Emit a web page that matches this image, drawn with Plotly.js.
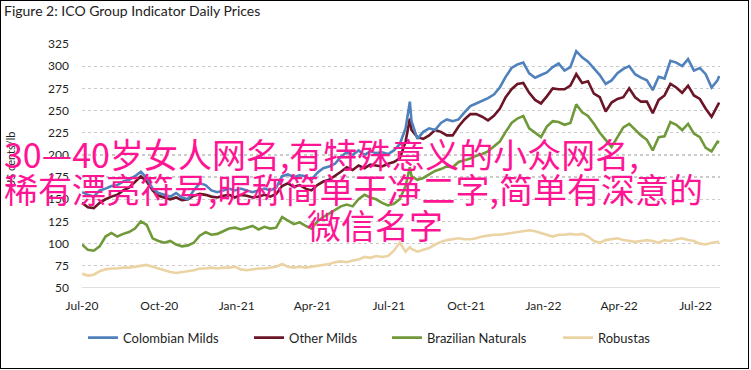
<!DOCTYPE html>
<html>
<head>
<meta charset="utf-8">
<script src="https://cdn.plot.ly/plotly-3.0.1.min.js"></script>
<style>
  html, body { margin: 0; padding: 0; background: #fff; }
  #wrap { position: relative; width: 751px; height: 370px; }
  #chart { width: 751px; height: 370px; }
  #frame { position: absolute; left: 0; top: 0; width: 747px; height: 367px; border: 1px solid #000; pointer-events: none; }
</style>
</head>
<body>
<div id="wrap"><div id="chart"></div><div id="frame"></div></div>
<script>
const dates = ["2020-07-01","2020-07-08","2020-07-15","2020-07-22","2020-07-29","2020-08-05","2020-08-12","2020-08-19","2020-08-26","2020-09-02","2020-09-09","2020-09-16","2020-09-23","2020-09-30","2020-10-07","2020-10-14","2020-10-21","2020-10-28","2020-11-04","2020-11-11","2020-11-18","2020-11-25","2020-12-02","2020-12-09","2020-12-16","2020-12-23","2020-12-30","2021-01-06","2021-01-13","2021-01-20","2021-01-27","2021-02-03","2021-02-10","2021-02-17","2021-02-24","2021-03-03","2021-03-10","2021-03-17","2021-03-24","2021-03-31","2021-04-07","2021-04-14","2021-04-21","2021-04-28","2021-05-05","2021-05-12","2021-05-19","2021-05-26","2021-06-02","2021-06-09","2021-06-16","2021-06-23","2021-06-30","2021-07-07","2021-07-14","2021-07-21","2021-07-26","2021-07-28","2021-08-04","2021-08-11","2021-08-18","2021-08-25","2021-09-01","2021-09-08","2021-09-15","2021-09-22","2021-09-29","2021-10-06","2021-10-13","2021-10-20","2021-10-27","2021-11-03","2021-11-10","2021-11-17","2021-11-24","2021-12-01","2021-12-08","2021-12-15","2021-12-22","2021-12-29","2022-01-05","2022-01-12","2022-01-19","2022-01-26","2022-02-02","2022-02-09","2022-02-16","2022-02-23","2022-03-02","2022-03-09","2022-03-16","2022-03-23","2022-03-30","2022-04-06","2022-04-13","2022-04-20","2022-04-27","2022-05-04","2022-05-11","2022-05-18","2022-05-25","2022-06-01","2022-06-08","2022-06-15","2022-06-22","2022-06-29","2022-07-06","2022-07-13","2022-07-20","2022-07-27","2022-07-29"];

const colombianMilds = [158,155,153,160,162,165,166,170,172,176,
  181,174,162,157,155,153,157,152,150,160,
  168,166,160,158,160,162,160,162,160,158,
  160,162,160,163,176,178,175,177,176,172,
  180,185,187,190,198,203,200,205,200,204,
  202,203,201,205,212,230,
  260,
  238,218,226,230,
  228,236,240,238,240,248,255,258,261,264,
  268,276,288,298,302,304,292,287,290,293,
  299,303,295,299,317,310,305,298,290,280,
  284,292,297,300,291,287,284,273,288,286,
  306,304,300,308,295,298,291,276,284,
  289];

const otherMilds = [146,141,140,146,150,153,155,160,163,170,
  176,170,160,154,152,150,152,149,150,154,
  156,155,153,152,154,155,152,155,154,152,
  153,155,153,156,165,168,164,166,162,160,
  166,170,172,176,181,186,183,188,185,189,
  188,187,190,192,196,215,
  241,
  228,220,218,222,
  228,226,222,222,232,240,246,246,243,239,
  244,252,265,274,280,281,270,262,258,266,
  275,274,274,278,291,281,283,269,265,249,
  259,263,265,275,265,260,260,247,262,267,
  280,276,270,278,267,263,252,243,255,
  259];

const brazilianNaturals = [99,93,92,97,108,112,108,111,113,117,
  125,121,106,103,101,103,99,97,98,101,
  109,113,110,111,114,117,118,116,118,120,
  116,119,117,118,130,126,122,124,120,117,
  125,130,134,138,142,144,142,150,155,152,
  150,146,143,145,150,165,
  186,
  176,172,174,178,
  182,184,187,186,192,194,196,199,201,204,
  210,215,226,236,241,244,230,225,220,232,
  238,237,234,236,257,248,244,235,225,217,
  209,220,231,235,228,222,217,205,220,221,
  237,234,228,235,224,220,208,204,215,
  214];

const robustas = [66,64,65,69,71,72,72,73,73,74,
  75,76,74,72,70,68,67,68,69,70,
  72,72,73,72,73,73,74,71,70,71,
  72,72,73,74,77,74,73,74,73,74,
  75,76,77,79,80,79,81,82,85,84,
  86,85,86,92,101,91,
  96,
  94,91,93,95,
  99,102,104,105,106,105,105,106,108,109,
  110,110,111,112,113,114,115,114,112,110,
  108,110,110,111,110,111,108,103,101,104,
  105,106,104,103,102,103,104,103,101,104,
  103,105,106,104,103,100,99,101,102,
  102];

const seriesNames = ["Colombian Milds","Other Milds","Brazilian Naturals","Robustas"];
const seriesColors = ["#4f81bd","#6b1526","#70993a","#ebd3a3"];
const yTicks = [50,75,100,125,150,175,200,225,250,275,300,325];
const xTicks = ["2020-07-01","2020-10-01","2021-01-01","2021-04-01","2021-07-01","2021-10-01","2022-01-01","2022-04-01","2022-07-01"];
const xTickLabels = ["Jul-20","Oct-20","Jan-21","Apr-21","Jul-21","Oct-21","Jan-22","Apr-22","Jul-22"];
const chartTitle = "Figure 2: ICO Group Indicator Daily Prices";
const yTitle = "US cents/lb";
const overlayLines = ["30—40岁女人网名,有特殊意义的小众网名,", "稀有漂亮符号,昵称简单干净二字,简单有深意的", "微信名字"];

const W = 751, H = 370;
const L = 82, R = 720, T = 44, B = 288.3;
const px2x = p => (p - L) / (R - L);
const px2y = p => (B - p) / (B - T);

const allValues = [colombianMilds, otherMilds, brazilianNaturals, robustas];
const legendIds = ["legend","legend2","legend3","legend4"];
const legendStarts = [83, 249, 387, 558];

const traces = allValues.map((vals, i) => ({
  type: "scatter", mode: "lines", x: dates, y: vals, name: seriesNames[i],
  line: {color: seriesColors[i], width: 2.6},
  legend: legendIds[i], hoverinfo: "skip"
}));
const order = [3,2,1,0];
const data = order.map(i => traces[i]);

const legendFont = {family: "Lato, 'Open Sans', sans-serif", size: 13, color: "#1f1f1f"};
const cjkFont = {family: "'Noto Sans CJK SC', sans-serif", size: 34, color: "#ff1493"};
const layout = {
  width: W, height: H,
  margin: {l: L, r: W - R, t: T, b: H - B},
  paper_bgcolor: "#fff", plot_bgcolor: "#fff",
  font: {family: "Lato, 'Open Sans', sans-serif", color: "#1f1f1f"},
  title: {text: chartTitle, x: 4 / W, xanchor: "left", xref: "container",
          y: 1 - 11.5 / H, yanchor: "middle", yref: "container",
          font: {family: "Lato, 'Open Sans', sans-serif", size: 14, color: "#222"}},
  xaxis: {type: "date", range: ["2020-07-01", "2022-07-30"],
          tickvals: xTicks, ticktext: xTickLabels, showgrid: false, zeroline: false,
          showline: false, ticks: "", ticklabelstandoff: 9,
          tickfont: {family: "Lato, 'Open Sans', sans-serif", size: 12, color: "#1f1f1f"}},
  yaxis: {range: [50, 325], tickvals: yTicks, showgrid: true, gridcolor: "#cbcbcb",
          griddash: "dot", gridwidth: 1.3, zeroline: false, showline: false, ticks: "",
          ticklabelstandoff: 12,
          tickfont: {family: "Lato, 'Open Sans', sans-serif", size: 12, color: "#1f1f1f"}},
  shapes: [{type: "line", xref: "paper", yref: "y", x0: 0, x1: 1, y0: 50, y1: 50,
            line: {color: "#d4d4d4", width: 1.5}, layer: "below"}],
  annotations: [
    {text: yTitle, xref: "paper", yref: "paper", x: px2x(11), y: px2y(160),
     xanchor: "center", yanchor: "middle", showarrow: false, textangle: -90,
     font: {family: "Lato, 'Open Sans', sans-serif", size: 11, color: "#1f1f1f"}},
    {text: overlayLines[0], xref: "paper", yref: "paper", x: px2x(2), y: px2y(154),
     xanchor: "left", yanchor: "middle", showarrow: false, font: cjkFont},
    {text: overlayLines[1], xref: "paper", yref: "paper", x: px2x(2), y: px2y(189),
     xanchor: "left", yanchor: "middle", showarrow: false, font: cjkFont},
    {text: overlayLines[2], xref: "paper", yref: "paper", x: px2x(375), y: px2y(225),
     xanchor: "center", yanchor: "middle", showarrow: false, font: cjkFont}
  ],
  showlegend: true
};
legendIds.forEach((id, i) => {
  layout[id] = {orientation: "h", x: px2x(legendStarts[i]), y: px2y(338),
    xanchor: "left", yanchor: "middle", bgcolor: "rgba(0,0,0,0)", borderwidth: 0,
    itemwidth: 30, font: legendFont, itemclick: false, itemdoubleclick: false};
});

Plotly.newPlot("chart", data, layout, {displayModeBar: false, staticPlot: true});
</script>
</body>
</html>
